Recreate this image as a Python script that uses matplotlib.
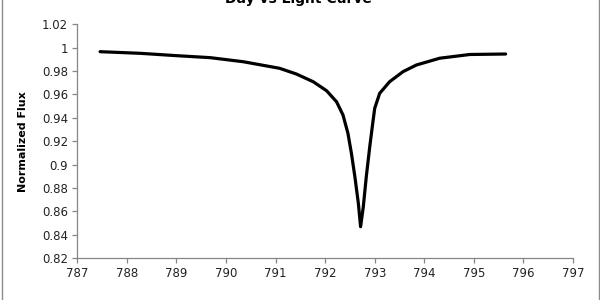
import matplotlib
matplotlib.use("Agg")
import matplotlib.pyplot as plt
from matplotlib.patches import Rectangle
from matplotlib.ticker import FuncFormatter, MultipleLocator

# values
days = [787.46, 788.27, 789.00, 789.68, 790.35, 791.08, 791.42, 791.76,
        792.03, 792.23, 792.36, 792.46, 792.53, 792.60, 792.67, 792.715,
        792.77, 792.83, 792.90, 792.96, 793.00, 793.10, 793.30, 793.57,
        793.84, 794.31, 794.92, 795.64]
flux = [0.9966, 0.9952, 0.9932, 0.9915, 0.9880, 0.9824, 0.9775, 0.9709,
        0.9632, 0.9538, 0.9425, 0.9268, 0.9097, 0.8897, 0.8670, 0.8470,
        0.8641, 0.8897, 0.9154, 0.9354, 0.9482, 0.9610, 0.9709, 0.9795,
        0.9852, 0.9910, 0.9942, 0.9946]

title = "Day vs Light Curve"
xlabel = "Day"
ylabel = "Normalized Flux"

axis_grey = "#868686"

fig = plt.figure(figsize=(6, 3), dpi=100)
ax = fig.add_axes([0.1288, 0.139, 0.8262, 0.780])

ax.plot(days, flux, color="black", lw=2.3, solid_joinstyle="round",
        solid_capstyle="round")

ax.set_xlim(787, 797)
ax.set_ylim(0.82, 1.02)
ax.xaxis.set_major_locator(MultipleLocator(1))
ax.yaxis.set_major_locator(MultipleLocator(0.02))
ax.yaxis.set_major_formatter(FuncFormatter(lambda v, p: f"{round(v, 2):g}"))

for side in ("top", "right"):
    ax.spines[side].set_visible(False)
for side in ("left", "bottom"):
    ax.spines[side].set_color(axis_grey)
    ax.spines[side].set_linewidth(0.9)

ax.tick_params(direction="out", length=3.5, width=0.9, color=axis_grey,
               labelsize=8.5, labelcolor="#222222", pad=3)

ax.set_ylabel(ylabel, fontsize=8, fontweight="bold")
ax.yaxis.set_label_coords(-0.0995, 0.5)
ax.set_xlabel(xlabel, fontsize=8.5, fontweight="bold")
ax.xaxis.set_label_coords(0.5, -0.215)

# title sits partly above the figure edge, as in the reference
fig.text(0.497, 1.005, title, ha="center", va="center",
         fontsize=10, fontweight="bold")

# chart border
fig.patches.append(Rectangle((2 / 600, -0.05), 596.5 / 600, 1.1,
                             transform=fig.transFigure, fill=False,
                             edgecolor="#8c8c8c", lw=1.0))

fig.savefig("out.png", dpi=100)
